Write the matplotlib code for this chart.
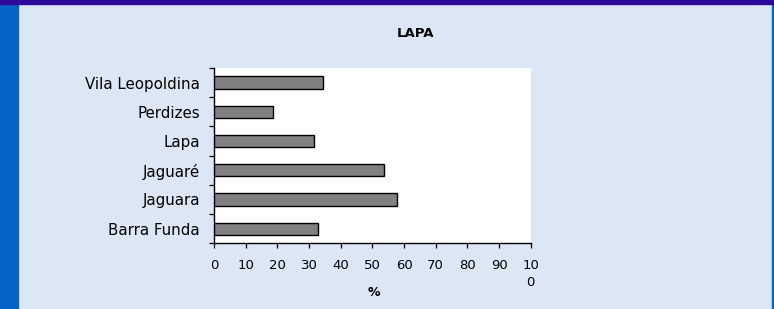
import numpy as np
import matplotlib
matplotlib.use("Agg")
import matplotlib.pyplot as plt
from matplotlib.patches import Rectangle

# data (bottom to top, as drawn)
bairros = ["Barra Funda", "Jaguara", "Jaguaré", "Lapa", "Perdizes", "Vila Leopoldina"]
valores = [32.9, 57.7, 53.8, 31.7, 18.7, 34.5]
xticks = [0, 10, 20, 30, 40, 50, 60, 70, 80, 90, 100]
xticklabels = ["0", "10", "20", "30", "40", "50", "60", "70", "80", "90", "10\n0"]

plt.rcParams['font.family'] = ['DejaVu Sans']

fig = plt.figure(figsize=(7.74, 3.09), dpi=100)
fig.patch.set_facecolor('#dbe7f5')

# slide frame
fig.add_artist(Rectangle((0, 0), 17.5/774, 1, transform=fig.transFigure, color='#0563c8', zorder=0))
fig.add_artist(Rectangle((771.5/774, 0), 2.5/774, 1, transform=fig.transFigure, color='#0563c8', zorder=0))
fig.add_artist(Rectangle((0, 1 - 4/309), 1, 4/309, transform=fig.transFigure, color='#2e0a9c', zorder=0))

ax = fig.add_axes([214/774, (309-243.3)/309, 316.7/774, 175.3/309])
ax.set_facecolor('white')

y = np.arange(len(bairros))
ax.barh(y, valores, height=0.42, color='#808080', edgecolor='black', linewidth=1.0, zorder=3)

ax.set_xlim(0, 100)
ax.set_ylim(-0.5, len(bairros) - 0.5)

ax.spines['top'].set_visible(False)
ax.spines['right'].set_visible(False)
ax.spines['left'].set_linewidth(1.0)
ax.spines['bottom'].set_linewidth(1.0)

ax.set_xticks(xticks)
ax.set_xticklabels(xticklabels, fontsize=9.5, linespacing=1.35)
ax.tick_params(axis='x', direction='out', length=3.5, width=0.9, pad=8)

ax.set_yticks(y)
ax.set_yticklabels(bairros, fontsize=10.8)
ax.tick_params(axis='y', which='major', length=0, pad=10)
ax.set_yticks(np.arange(len(bairros) + 1) - 0.5, minor=True)
ax.tick_params(axis='y', which='minor', direction='out', length=3.5, width=0.9)

ax.set_xlabel('%', fontsize=9, fontweight='bold')
ax.xaxis.set_label_coords(0.505, -0.244)

fig.text(415/774, 1 - 33.5/309, 'LAPA', fontsize=9.5, fontweight='bold', ha='center', va='center')

fig.savefig('out.png', dpi=100, facecolor=fig.get_facecolor())
